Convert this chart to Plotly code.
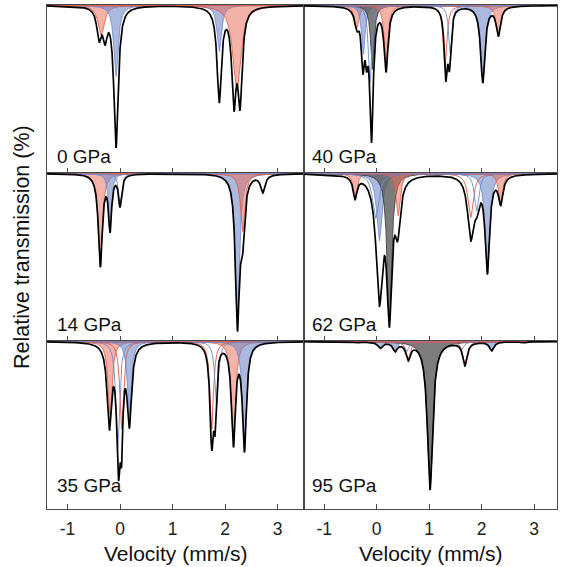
import numpy as np
import plotly.graph_objects as go
from plotly.subplots import make_subplots

W, H = 565, 567

# ---------------- data (velocities in mm/s, depths in % absorption) ----------------
tick_values = [-1, 0, 1, 2, 3]
tick_labels = ["-1", "0", "1", "2", "3"]
x_title = "Velocity (mm/s)"
y_title = "Relative transmission (%)"
pressure_labels = ["0 GPa", "40 GPa", "14 GPa", "62 GPa", "35 GPa", "95 GPa"]

# 0 GPa
fit0_center = [-0.40, -0.286, -0.076, 1.89, 2.17, 2.286]
fit0_depth = [3.7, 4.0, 14.25, 9.75, 10.6, 10.5]
fit0_hwhm = [0.05, 0.05, 0.05, 0.05, 0.05, 0.05]
comp0_center = [-0.36, -0.076, 1.89, 2.225]
comp0_depth = [3.0, 7.1, 4.6, 8.5]
comp0_hwhm = [0.07, 0.05, 0.05, 0.09]
comp0_site = ["A", "B", "B", "A"]

# 40 GPa
fit40_center = [-0.38, -0.265, -0.195, -0.10, 0.177, 1.314, 1.385, 2.02, 2.317]
fit40_depth = [2.6, 6.9, 6.7, 13.75, 6.7, 7.6, 6.6, 7.75, 3.1]
fit40_hwhm = [0.05, 0.035, 0.03, 0.04, 0.045, 0.035, 0.035, 0.05, 0.05]
comp40_center = [-0.38, -0.255, -0.13, -0.083, 0.177, 1.30, 1.40, 2.02, 2.317]
comp40_depth = [2.25, 4.9, 7.75, 6.4, 6.1, 6.25, 4.75, 7.75, 3.1]
comp40_hwhm = [0.05, 0.04, 0.035, 0.04, 0.04, 0.04, 0.035, 0.05, 0.05]
comp40_site = ["A", "B", "b", "C", "A", "a", "b", "B", "A"]

# 14 GPa
fit14_center = [-0.375, -0.19, 0.0, 2.235, 2.33, 2.72]
fit14_depth = [9.38, 5.95, 3.4, 15.8, 8.5, 1.95]
fit14_hwhm = [0.045, 0.035, 0.035, 0.045, 0.05, 0.05]
comp14_center = [-0.375, -0.19, 0.0, 2.235, 2.337]
comp14_depth = [9.3, 5.5, 3.0, 15.8, 5.8]
comp14_hwhm = [0.045, 0.035, 0.035, 0.045, 0.05]
comp14_site = ["A", "B", "b", "B", "A"]

# 62 GPa
fit62_center = [-0.413, 0.05, 0.24, 0.40, 1.79, 1.905, 2.107, 2.36]
fit62_depth = [2.6, 13.25, 15.4, 6.75, 6.75, 4.5, 10.1, 3.25]
fit62_hwhm = [0.045, 0.075, 0.055, 0.06, 0.07, 0.06, 0.05, 0.05]
comp62_center = [-0.41, -0.02, 0.05, 0.24, 0.41, 1.79, 1.905, 2.107, 2.36]
comp62_depth = [2.4, 4.5, 6.75, 15.4, 4.25, 4.4, 3.75, 10.1, 3.1]
comp62_hwhm = [0.045, 0.07, 0.06, 0.05, 0.045, 0.06, 0.05, 0.05, 0.045]
comp62_site = ["A", "b", "B", "C", "A", "a", "b", "B", "A"]

# 35 GPa
fit35_center = [-0.203, -0.03, 0.03, 0.178, 1.746, 1.81, 2.16, 2.37]
fit35_depth = [8.9, 13.9, 12.5, 8.7, 10.9, 9.4, 10.6, 11.1]
fit35_hwhm = [0.05, 0.04, 0.03, 0.05, 0.04, 0.03, 0.045, 0.045]
comp35_center = [-0.19, -0.045, 0.03, 0.178, 1.746, 1.84, 2.16, 2.37]
comp35_depth = [7.75, 10.75, 8.75, 7.4, 8.75, 6.6, 10.45, 11.0]
comp35_hwhm = [0.045, 0.04, 0.04, 0.045, 0.04, 0.04, 0.045, 0.045]
comp35_site = ["A", "b", "a", "B", "a", "b", "A", "B"]

# 95 GPa
fit95_center = [-0.38, 0.063, 0.35, 0.60, 1.015, 1.68, 2.19, 2.79]
fit95_depth = [0.15, 0.7, 1.05, 1.95, 14.85, 2.45, 0.95, 0.15]
fit95_hwhm = [0.05, 0.05, 0.05, 0.05, 0.06, 0.05, 0.05, 0.05]
comp95_center = [-0.38, 0.063, 0.35, 0.57, 0.60, 1.015, 1.62, 1.68, 2.19, 2.79]
comp95_depth = [0.15, 0.65, 0.85, 1.0, 1.8, 14.85, 0.8, 2.2, 0.9, 0.15]
comp95_hwhm = [0.05, 0.05, 0.05, 0.05, 0.05, 0.06, 0.05, 0.05, 0.05, 0.05]
comp95_site = ["A", "B", "B", "b", "a", "C", "b", "a", "B", "A"]

panels = [
    (fit0_center, fit0_depth, fit0_hwhm, comp0_center, comp0_depth, comp0_hwhm, comp0_site),
    (fit40_center, fit40_depth, fit40_hwhm, comp40_center, comp40_depth, comp40_hwhm, comp40_site),
    (fit14_center, fit14_depth, fit14_hwhm, comp14_center, comp14_depth, comp14_hwhm, comp14_site),
    (fit62_center, fit62_depth, fit62_hwhm, comp62_center, comp62_depth, comp62_hwhm, comp62_site),
    (fit35_center, fit35_depth, fit35_hwhm, comp35_center, comp35_depth, comp35_hwhm, comp35_site),
    (fit95_center, fit95_depth, fit95_hwhm, comp95_center, comp95_depth, comp95_hwhm, comp95_site),
]

# ---------------- styles / layout ----------------
RED_FILL = "rgba(232,110,90,0.52)"
RED_LINE = "rgb(226,88,68)"
BLUE_FILL = "rgba(110,135,200,0.58)"
BLUE_LINE = "rgb(108,138,206)"
GREY_FILL = "rgba(95,95,95,0.82)"
GREY_LINE = "rgb(55,55,55)"
site_style = {
    "A": (RED_FILL, RED_LINE),
    "a": (None, RED_LINE),
    "B": (BLUE_FILL, BLUE_LINE),
    "b": (None, BLUE_LINE),
    "C": (GREY_FILL, GREY_LINE),
}
FRAME = "#4a4a4a"
FONT = "Liberation Sans, Arial, Helvetica, sans-serif"

col_px = [(46.5, 303.5), (303.5, 557.0)]
row_px = [(5.0, 173.0), (173.0, 341.0), (341.0, 509.0)]
x_ranges = [[-1.40, 3.495], [-1.395, 3.434]]
BASE = 100.0
PX_PER_PCT = 10.0


def lorentz(v, c, h):
    return h ** 2 / ((v - c) ** 2 + h ** 2)


fig = make_subplots(rows=3, cols=2, horizontal_spacing=0, vertical_spacing=0)

for k, (fc, fd, fh, cc, cd, ch, cs) in enumerate(panels):
    r, c = k // 2, k % 2
    row, col = r + 1, c + 1
    xr = x_ranges[c]
    v = np.linspace(xr[0], xr[1], 2500)

    # components: fills first, then outlines
    for ci, cdp, chw, site in zip(cc, cd, ch, cs):
        fillc, linec = site_style[site]
        y = BASE - cdp * lorentz(v, ci, chw)
        if fillc is not None:
            xs = np.concatenate([v, [v[-1], v[0]]])
            ys = np.concatenate([y, [BASE, BASE]])
            fig.add_trace(go.Scatter(x=xs, y=ys, mode="lines", fill="toself",
                                     fillcolor=fillc, line=dict(color=linec, width=0.8),
                                     hoverinfo="skip", showlegend=False), row=row, col=col)
    for ci, cdp, chw, site in zip(cc, cd, ch, cs):
        fillc, linec = site_style[site]
        if fillc is None:
            y = BASE - cdp * lorentz(v, ci, chw)
            fig.add_trace(go.Scatter(x=v, y=y, mode="lines",
                                     line=dict(color=linec, width=0.9),
                                     hoverinfo="skip", showlegend=False), row=row, col=col)

    # total fit: amplitudes chosen so the summed curve reaches the read depths
    fc_a, fd_a, fh_a = np.array(fc), np.array(fd), np.array(fh)
    M = lorentz(fc_a[:, None], fc_a[None, :], fh_a[None, :])
    amp = np.linalg.solve(M, fd_a)
    total = BASE - (amp[None, :] * lorentz(v[:, None], fc_a[None, :], fh_a[None, :])).sum(axis=1)
    fig.add_trace(go.Scatter(x=v, y=total, mode="lines", line=dict(color="black", width=1.7),
                             hoverinfo="skip", showlegend=False), row=row, col=col)

    x0, x1 = col_px[c]
    y0, y1 = row_px[r]
    ytop = BASE + 0.5 / PX_PER_PCT
    ybot = ytop - (y1 - y0) / PX_PER_PCT
    fig.update_xaxes(domain=[x0 / W, x1 / W], range=xr, row=row, col=col,
                     showline=True, linecolor=FRAME, linewidth=1, mirror=True,
                     ticks="inside", ticklen=5, tickwidth=1, tickcolor=FRAME,
                     tickvals=tick_values, ticktext=tick_labels,
                     showticklabels=(r == 2), showgrid=False, zeroline=False,
                     tickfont=dict(family=FONT, size=17.5, color="#222"),
                     ticklabelstandoff=4)
    fig.update_yaxes(domain=[1 - y1 / H, 1 - y0 / H], range=[ybot, ytop], row=row, col=col,
                     showline=True, linecolor=FRAME, linewidth=1, mirror=True,
                     ticks="", showticklabels=False, showgrid=False, zeroline=False)

annotations = []
label_y = [156.0, 324.5, 485.5]
label_x = [55.0, 310.0]
for k, lab in enumerate(pressure_labels):
    r, c = k // 2, k % 2
    annotations.append(dict(text=lab, x=label_x[c] / W, y=1 - label_y[r] / H,
                            xref="paper", yref="paper", xanchor="left", yanchor="middle",
                            showarrow=False, font=dict(family=FONT, size=19, color="#111")))
for c in range(2):
    xc = (col_px[c][0] + col_px[c][1]) / 2 / W
    annotations.append(dict(text=x_title, x=xc + 0.001, y=1 - 553.0 / H, xref="paper", yref="paper",
                            xanchor="center", yanchor="middle", showarrow=False,
                            font=dict(family=FONT, size=21, color="#111")))
annotations.append(dict(text=y_title, x=22.0 / W, y=1 - 247.0 / H, xref="paper", yref="paper",
                        xanchor="center", yanchor="middle", textangle=-90, showarrow=False,
                        font=dict(family=FONT, size=21.5, color="#111")))

fig.update_layout(width=W, height=H, margin=dict(l=0, r=0, t=0, b=0),
                  paper_bgcolor="white", plot_bgcolor="white",
                  annotations=annotations, showlegend=False)

# remove the browser's default page margin so the 565x567 figure fills the window
fig.write_html("out.html", config={"displayModeBar": False},
               post_script="document.body.style.margin='0px';")
